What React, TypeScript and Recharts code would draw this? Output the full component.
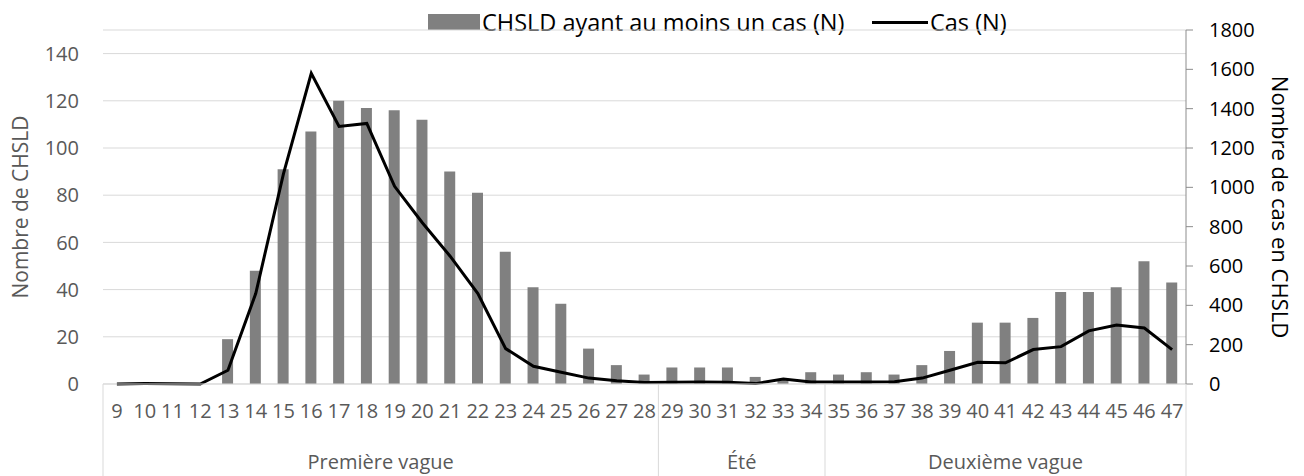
import React from "react";
import { ComposedChart, Bar, Line, XAxis, YAxis, CartesianGrid } from "recharts";

const weeks = ["9", "10", "11", "12", "13", "14", "15", "16", "17", "18", "19", "20", "21", "22", "23", "24", "25", "26", "27", "28", "29", "30", "31", "32", "33", "34", "35", "36", "37", "38", "39", "40", "41", "42", "43", "44", "45", "46", "47"];
const chsld = [0, 0, 0, 0, 19, 48, 91, 107, 120, 117, 116, 112, 90, 81, 56, 41, 34, 15, 8, 4, 7, 7, 7, 3, 2, 5, 4, 5, 4, 8, 14, 26, 26, 28, 39, 39, 41, 52, 43];
const cas = [0, 2, 1, 0, 70, 460, 1070, 1580, 1310, 1325, 1005, 820, 650, 460, 180, 90, 60, 30, 17, 8, 9, 10, 9, 2, 25, 10, 10, 10, 12, 30, 70, 110, 108, 175, 190, 270, 300, 285, 175];
const groups = [
  { label: "Première vague", from: "9", to: "28" },
  { label: "Été", from: "29", to: "34" },
  { label: "Deuxième vague", from: "35", to: "47" },
];
const leftTicks = [0, 20, 40, 60, 80, 100, 120, 140];
const rightTicks = [0, 200, 400, 600, 800, 1000, 1200, 1400, 1600, 1800];

const W = 1304;
const H = 476;
const LEFT = 103;
const RIGHT = 118;
const TOP = 30;
const XH = 92;
const band = (W - LEFT - RIGHT) / weeks.length;
const FONT = "'Open Sans', sans-serif";
const TXT = "#595959";

const data = weeks.map((w, i) => ({ week: w, chsld: chsld[i], cas: cas[i] }));

function WeekTick(props: any) {
  const { x, y, payload } = props;
  const w = payload.value;
  const i = weeks.indexOf(w);
  const out: any[] = [];
  out.push(
    <text key="t" x={x} y={y + 34} textAnchor="middle" fill={TXT} fontSize={20} fontFamily={FONT}>
      {w}
    </text>
  );
  groups.forEach((g, gi) => {
    const a = weeks.indexOf(g.from);
    const b = weeks.indexOf(g.to);
    if (i === a) {
      out.push(<line key={"l" + gi} x1={x - band / 2} x2={x - band / 2} y1={y} y2={y + XH} stroke="#d9d9d9" />);
      out.push(
        <text key={"g" + gi} x={x + ((b - a) / 2) * band} y={y + 85} textAnchor="middle" fill={TXT} fontSize={20} fontFamily={FONT}>
          {g.label}
        </text>
      );
    }
    if (i === b && gi === groups.length - 1) {
      out.push(<line key={"r" + gi} x1={x + band / 2} x2={x + band / 2} y1={y} y2={y + XH} stroke="#d9d9d9" />);
    }
  });
  return <g>{out}</g>;
}

export default function App() {
  return (
    <div style={{ position: "absolute", left: 0, top: 0, width: W, height: H, background: "#fff", fontFamily: FONT }}>
      <div style={{ position: "absolute", top: 0, left: 0, width: W, height: 30, fontSize: 23.5, color: "#000", whiteSpace: "nowrap" }}>
        <span style={{ position: "absolute", left: 428, top: 14, width: 52, height: 16, background: "#808080" }} />
        <span style={{ position: "absolute", left: 482, top: 22, transform: "translateY(-50%)", lineHeight: "30px" }}>CHSLD ayant au moins un cas (N)</span>
        <span style={{ position: "absolute", left: 872, top: 21, width: 56, height: 3, background: "#000" }} />
        <span style={{ position: "absolute", left: 930, top: 22, transform: "translateY(-50%)", lineHeight: "30px" }}>Cas (N)</span>
      </div>
      <ComposedChart width={W} height={H} data={data} margin={{ top: TOP, right: 0, bottom: 0, left: 0 }} barCategoryGap={0}>
        <CartesianGrid vertical={false} stroke="#d9d9d9" yAxisId="left" />
        <XAxis
          dataKey="week"
          interval={0}
          height={XH}
          tickSize={0}
          tickMargin={0}
          tickLine={false}
          axisLine={{ stroke: "#d9d9d9" }}
          tick={<WeekTick />}
        />
        <YAxis
          yAxisId="left"
          domain={[0, 150]}
          ticks={leftTicks}
          width={LEFT}
          axisLine={false}
          tickLine={false}
          tickSize={0}
          tickMargin={24}
          tick={{ fill: TXT, fontSize: 20, fontFamily: FONT }}
          label={{ value: "Nombre de CHSLD", angle: -90, position: "insideLeft", offset: 21, style: { fill: TXT, fontSize: 21, fontFamily: FONT, textAnchor: "middle" } }}
        />
        <YAxis
          yAxisId="right"
          orientation="right"
          domain={[0, 1800]}
          ticks={rightTicks}
          width={RIGHT}
          axisLine={{ stroke: "#8c8c8c" }}
          tickLine={{ stroke: "#8c8c8c" }}
          tickSize={7}
          tickMargin={16}
          tick={{ fill: "#000", fontSize: 20, fontFamily: FONT }}
          label={{ value: "Nombre de cas en CHSLD", angle: 90, position: "insideRight", offset: 24, style: { fill: "#000", fontSize: 22, fontFamily: FONT, textAnchor: "middle" } }}
        />
        <Bar yAxisId="left" dataKey="chsld" fill="#808080" barSize={11} isAnimationActive={false} />
        <Line yAxisId="right" dataKey="cas" type="linear" stroke="#000" strokeWidth={3} dot={false} isAnimationActive={false} />
      </ComposedChart>
    </div>
  );
}
